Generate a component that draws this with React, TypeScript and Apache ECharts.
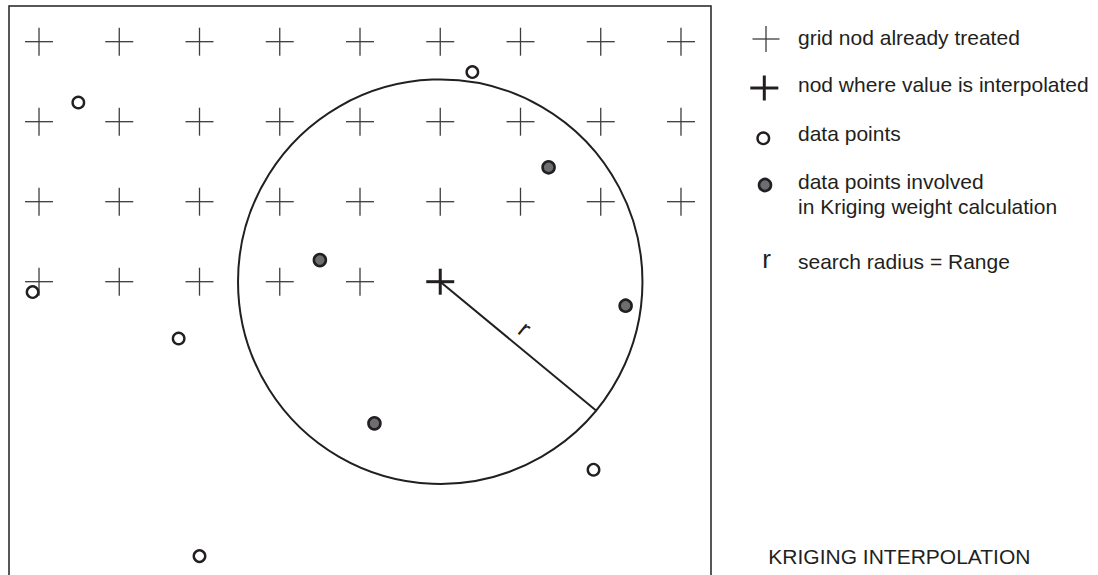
import React, { useEffect, useRef } from "react";
import * as echarts from "echarts";

// ---- data (grid units: one unit = one grid spacing; rows counted downward) ----
const gridColumns = [0, 1, 2, 3, 4, 5, 6, 7, 8];
const fullRows = [0, 1, 2];
const partialRow = 3;
const partialRowColumns = [0, 1, 2, 3, 4];
const targetNode: [number, number] = [5, 3];

const dataPoints: [number, number][] = [
  [5.4, 0.38],
  [0.49, 0.76],
  [-0.08, 3.13],
  [1.74, 3.71],
  [6.91, 5.35],
  [2.0, 6.43],
];
const involvedPoints: [number, number][] = [
  [6.35, 1.57],
  [3.5, 2.73],
  [7.31, 3.3],
  [4.18, 4.77],
];
const searchRadius = 2.52;
const radiusAngleDeg = 39.6;
const radiusLabel = "r";

const legendLabels = [
  "grid nod already treated",
  "nod where value is interpolated",
  "data points",
  "data points involved",
  "in Kriging weight calculation",
  "search radius = Range",
];
const titleText = "KRIGING INTERPOLATION";

// axis ranges
const xRange: [number, number] = [-0.374, 8.374];
const yRange: [number, number] = [-0.446, 6.666];

const INK = "#231f20";
const THIN = "#3d3d3d";
const FILL = "#6d6e71";
const FONT = "Liberation Sans, Arial, Helvetica, sans-serif";

const treatedNodes: [number, number][] = [];
fullRows.forEach((r) => gridColumns.forEach((c) => treatedNodes.push([c, r])));
partialRowColumns.forEach((c) => treatedNodes.push([c, partialRow]));

function crossLines(cx: number, cy: number, hx: number, hy: number, color: string, lw: number) {
  return [
    { type: "line", shape: { x1: cx - hx, y1: cy, x2: cx + hx, y2: cy }, style: { stroke: color, lineWidth: lw } },
    { type: "line", shape: { x1: cx, y1: cy - hy, x2: cx, y2: cy + hy }, style: { stroke: color, lineWidth: lw } },
  ];
}

export default function App() {
  const ref = useRef<HTMLDivElement>(null);
  useEffect(() => {
    if (!ref.current) return;
    const chart = echarts.init(ref.current, null, { renderer: "svg" });
    const textStyle = (text: string, size = 21) => ({
      text,
      fill: INK,
      font: `${size}px ${FONT}`,
      verticalAlign: "middle",
      align: "left",
    });
    const legendX = 798;
    chart.setOption({
      animation: false,
      backgroundColor: "#ffffff",
      grid: {
        show: false,
        left: 9,
        top: 6,
        width: 702,
        height: 569,
      },
      xAxis: { type: "value", min: xRange[0], max: xRange[1], show: false },
      yAxis: { type: "value", min: yRange[0], max: yRange[1], inverse: true, show: false },
      series: [
        {
          type: "custom",
          name: "grid nodes",
          data: treatedNodes,
          clip: false,
          renderItem: (_p: any, api: any) => {
            const c = api.coord([api.value(0), api.value(1)]);
            return { type: "group", children: crossLines(c[0], c[1], 14, 14, THIN, 1.3) };
          },
        },
        {
          type: "custom",
          name: "search",
          data: [[targetNode[0], targetNode[1], searchRadius, radiusAngleDeg]],
          clip: false,
          renderItem: (_p: any, api: any) => {
            const c = api.coord([api.value(0), api.value(1)]);
            const rpx = api.size([api.value(2), 0])[0];
            const a = (api.value(3) * Math.PI) / 180;
            const dx = Math.cos(a);
            const dy = Math.sin(a);
            const ex = c[0] + rpx * dx;
            const ey = c[1] + rpx * dy;
            const t = 0.47 * rpx;
            const off = 18;
            const lx = c[0] + t * dx + off * dy;
            const ly = c[1] + t * dy - off * dx;
            return {
              type: "group",
              children: [
                { type: "circle", shape: { cx: c[0], cy: c[1], r: rpx }, style: { fill: "none", stroke: INK, lineWidth: 2 } },
                { type: "line", shape: { x1: c[0], y1: c[1], x2: ex, y2: ey }, style: { stroke: INK, lineWidth: 2 } },
                ...crossLines(c[0], c[1], 14, 13, INK, 3),
                {
                  type: "text",
                  x: lx,
                  y: ly,
                  rotation: -a,
                  style: { text: radiusLabel, fill: INK, font: `24px ${FONT}`, align: "center", verticalAlign: "middle" },
                },
              ],
            };
          },
        },
        {
          type: "scatter",
          name: "data points",
          data: dataPoints,
          clip: false,
          symbol: "circle",
          symbolSize: 11.5,
          itemStyle: { color: "#ffffff", borderColor: INK, borderWidth: 2.4, opacity: 1 },
          z: 5,
        },
        {
          type: "scatter",
          name: "involved",
          data: involvedPoints,
          clip: false,
          symbol: "circle",
          symbolSize: 12,
          itemStyle: { color: FILL, borderColor: INK, borderWidth: 2.6, opacity: 1 },
          z: 5,
        },
      ],
      graphic: [
        { type: "rect", shape: { x: 9, y: 6, width: 702, height: 640 }, style: { fill: "none", stroke: INK, lineWidth: 1.5 } },
        ...crossLines(766, 39, 13.5, 13, THIN, 1.3),
        ...crossLines(764.3, 88, 14, 12.5, INK, 3),
        { type: "circle", shape: { cx: 763.3, cy: 138.3, r: 5.8 }, style: { fill: "#ffffff", stroke: INK, lineWidth: 2.4 } },
        { type: "circle", shape: { cx: 765, cy: 185, r: 6 }, style: { fill: FILL, stroke: INK, lineWidth: 2.6 } },
        { type: "text", x: 766.5, y: 259, style: { text: radiusLabel, fill: INK, font: `26px ${FONT}`, align: "center", verticalAlign: "middle" } },
        { type: "text", x: legendX, y: 37, style: textStyle(legendLabels[0]) },
        { type: "text", x: legendX, y: 84, style: textStyle(legendLabels[1]) },
        { type: "text", x: legendX, y: 133, style: textStyle(legendLabels[2]) },
        { type: "text", x: legendX, y: 181, style: textStyle(legendLabels[3]) },
        { type: "text", x: legendX, y: 206, style: textStyle(legendLabels[4]) },
        { type: "text", x: legendX, y: 261, style: textStyle(legendLabels[5]) },
        { type: "text", x: 768.3, y: 556, style: textStyle(titleText) },
      ],
    });
    return () => chart.dispose();
  }, []);
  return (
    <div
      ref={ref}
      style={{ position: "fixed", left: 0, top: 0, width: 1098, height: 575, background: "#fff" }}
    />
  );
}
